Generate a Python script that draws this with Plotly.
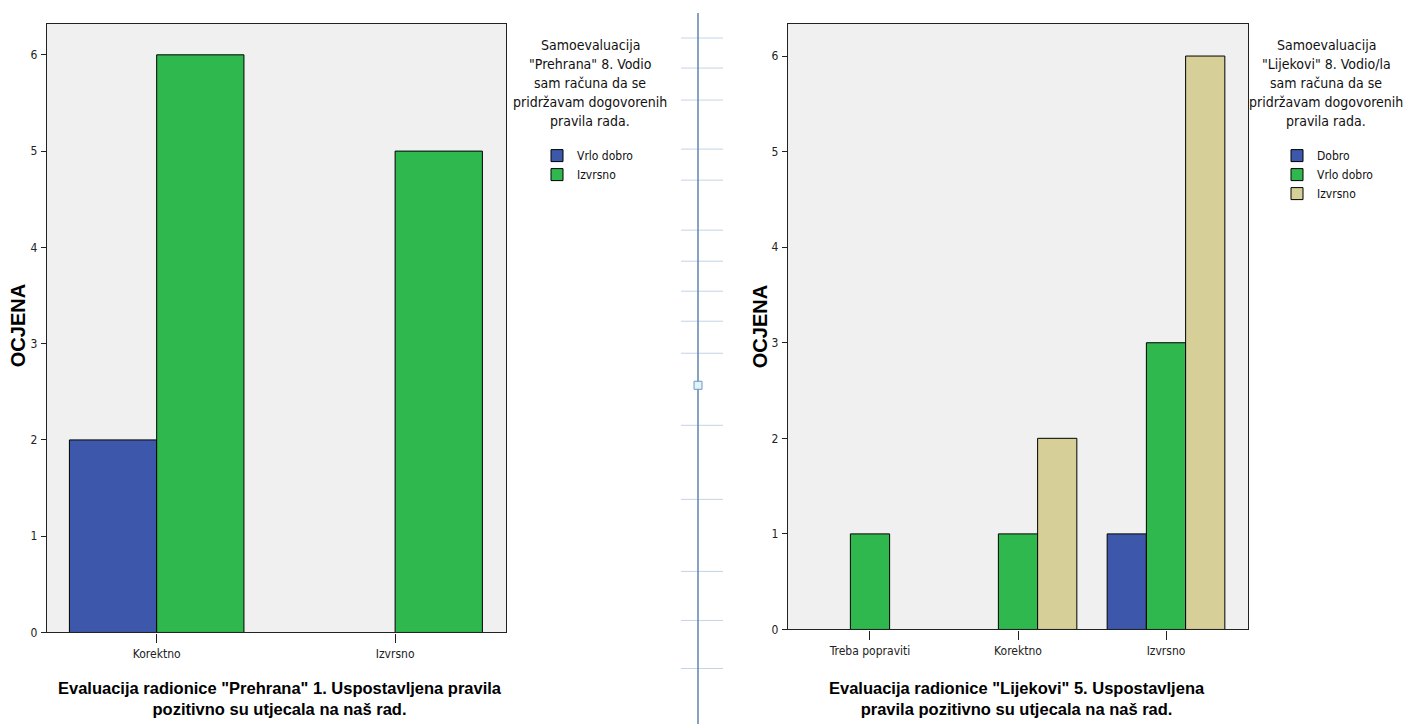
import plotly.graph_objects as go

W, H = 1403, 724
K = 1.0105                # small vertical compensation for the page capture

# ---- data ----
left_categories = ["Korektno", "Izvrsno"]
left_vrlo_dobro = [2, None]
left_izvrsno = [6, 5]

right_categories = ["Treba popraviti", "Korektno", "Izvrsno"]
right_dobro = [None, None, 1]
right_vrlo_dobro = [1, 1, 3]
right_izvrsno = [None, 2, 6]

y_ticks = [0, 1, 2, 3, 4, 5, 6]

left_legend_title = ["Samoevaluacija", "\"Prehrana\" 8. Vodio", "sam računa da se",
                     "pridržavam dogovorenih", "pravila rada."]
right_legend_title = ["Samoevaluacija", "\"Lijekovi\" 8. Vodio/la", "sam računa da se",
                      "pridržavam dogovorenih", "pravila rada."]
left_xtitle = "Evaluacija radionice \"Prehrana\" 1. Uspostavljena pravila<br>pozitivno su utjecala na naš rad."
right_xtitle = "Evaluacija radionice \"Lijekovi\" 5. Uspostavljena<br>pravila pozitivno su utjecala na naš rad."
y_title = "OCJENA"

# ---- styles ----
BLUE = "#3d57ab"
GREEN = "#2eb84e"
TAN = "#d6cf98"
NARROW = "Liberation Sans Narrow, Arial Narrow, DejaVu Sans Condensed, sans-serif"
BOLD = "Liberation Sans, Arial, sans-serif"


def px(x):
    return x / W


def py(y):
    return 1 - (y * K) / H


def bold(t):
    return "<br>".join("<b>" + part + "</b>" for part in t.split("<br>"))


line = dict(color="black", width=1)

fig = go.Figure()

# left chart bars
lw = 0.366
fig.add_trace(go.Bar(x=left_categories, y=left_vrlo_dobro, name="Vrlo dobro",
                     marker=dict(color=BLUE, line=line), offset=-lw, width=lw,
                     xaxis="x", yaxis="y", legend="legend"))
fig.add_trace(go.Bar(x=left_categories, y=left_izvrsno, name="Izvrsno",
                     marker=dict(color=GREEN, line=line), offset=0, width=lw,
                     xaxis="x", yaxis="y", legend="legend"))

# right chart bars
rw = 0.265
fig.add_trace(go.Bar(x=right_categories, y=right_dobro, name="Dobro",
                     marker=dict(color=BLUE, line=line), offset=-1.5 * rw, width=rw,
                     xaxis="x2", yaxis="y2", legend="legend2"))
fig.add_trace(go.Bar(x=right_categories, y=right_vrlo_dobro, name="Vrlo dobro",
                     marker=dict(color=GREEN, line=line), offset=-0.5 * rw, width=rw,
                     xaxis="x2", yaxis="y2", legend="legend2"))
fig.add_trace(go.Bar(x=right_categories, y=right_izvrsno, name="Izvrsno",
                     marker=dict(color=TAN, line=line), offset=0.5 * rw, width=rw,
                     xaxis="x2", yaxis="y2", legend="legend2"))

axis_common = dict(showline=True, linecolor="#222", linewidth=1.3, mirror=True,
                   showgrid=False, zeroline=False, ticks="outside", tickcolor="#222",
                   tickfont=dict(family=NARROW, size=12, color="#222"))

fig.update_layout(
    width=W, height=H,
    margin=dict(l=0, r=0, t=0, b=0),
    paper_bgcolor="white",
    plot_bgcolor="#f0f0f0",
    barmode="group",
    xaxis=dict(domain=[px(47), px(506)], range=[-0.46, 1.465], ticklen=9,
               ticklabelstandoff=1, anchor="y", **axis_common),
    yaxis=dict(domain=[py(632), py(24)], range=[0, 6.32], tickvals=y_ticks,
               ticklen=5, ticklabelstandoff=1, anchor="x", **axis_common),
    xaxis2=dict(domain=[px(788), px(1248)], range=[-0.554, 2.554], ticklen=9,
                ticklabelstandoff=1, anchor="y2", **axis_common),
    yaxis2=dict(domain=[py(629), py(24)], range=[0, 6.335], tickvals=y_ticks,
                ticklen=5, ticklabelstandoff=1, anchor="x2", **axis_common),
    legend=dict(x=px(537), y=py(141), xanchor="left", yanchor="top",
                bgcolor="rgba(0,0,0,0)", font=dict(family=NARROW, size=12, color="#111"),
                tracegroupgap=0, traceorder="normal"),
    legend2=dict(x=px(1277), y=py(141), xanchor="left", yanchor="top",
                 bgcolor="rgba(0,0,0,0)", font=dict(family=NARROW, size=12, color="#111"),
                 tracegroupgap=0, traceorder="normal"),
    showlegend=True,
)

annotations = []
for cx, lines in [(590, left_legend_title), (1326, right_legend_title)]:
    for i, t in enumerate(lines):
        annotations.append(dict(text=t, x=px(cx), y=py(45 + 19 * i), xanchor="center",
                                yanchor="middle", font=dict(family=NARROW, size=14, color="#111")))
annotations += [
    dict(text=bold(left_xtitle), x=px(280), y=py(677), xanchor="center", yanchor="top",
         font=dict(family=BOLD, size=16.5, color="black")),
    dict(text=bold(right_xtitle), x=px(1017), y=py(677), xanchor="center", yanchor="top",
         font=dict(family=BOLD, size=16.5, color="black")),
    dict(text=bold(y_title), x=px(18), y=py(326), textangle=-90,
         xanchor="center", yanchor="middle", font=dict(family=BOLD, size=20, color="black")),
    dict(text=bold(y_title), x=px(760), y=py(326), textangle=-90,
         xanchor="center", yanchor="middle", font=dict(family=BOLD, size=20, color="black")),
]
for a in annotations:
    a.update(xref="paper", yref="paper", showarrow=False, align="center")
fig.update_layout(annotations=annotations)

# decorative divider between the panels
shapes = [dict(type="line", xref="paper", yref="paper", x0=px(698), x1=px(698),
               y0=py(13), y1=py(724), line=dict(color="#5f83ad", width=1.5), layer="above")]
for yy in [38, 68, 100, 149, 180, 230, 261, 291, 321, 353, 425, 499, 571, 620, 668]:
    shapes.append(dict(type="line", xref="paper", yref="paper", x0=px(681), x1=px(723),
                       y0=py(yy), y1=py(yy), line=dict(color="#c3d3e6", width=1), layer="below"))
shapes.append(dict(type="rect", xref="paper", yref="paper", x0=px(694), x1=px(702),
                   y0=py(389), y1=py(381), fillcolor="#e2f2fb",
                   line=dict(color="#6f97c2", width=1), layer="above"))
fig.update_layout(shapes=shapes)

fig.write_html("out.html", config={"displayModeBar": False},
               post_script="document.body.style.margin='0';document.body.style.overflow='hidden';")
